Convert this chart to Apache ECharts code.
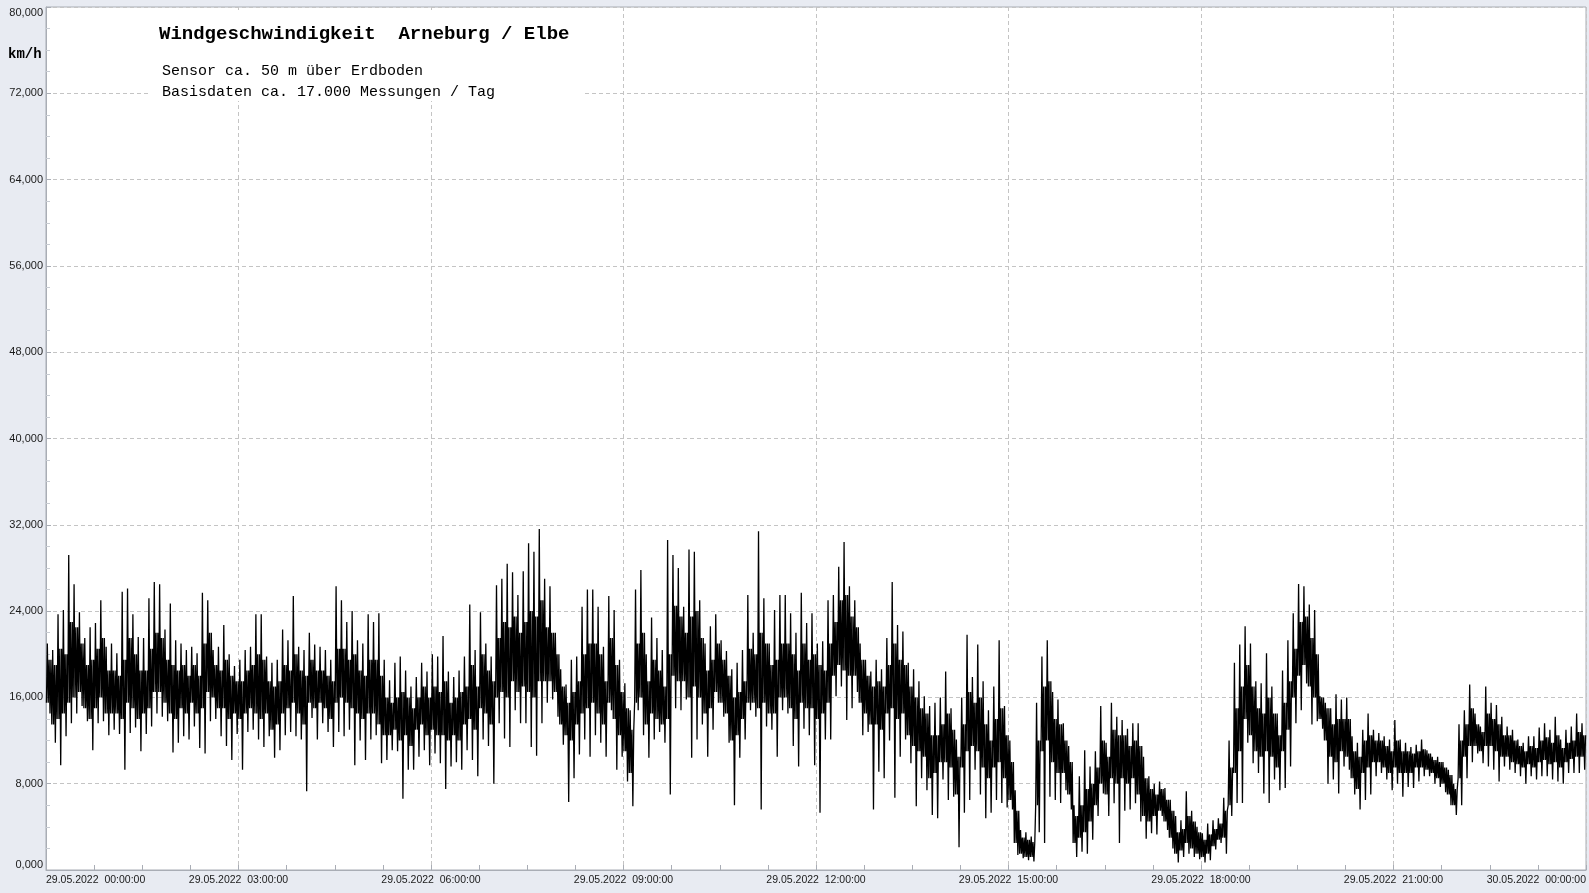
<!DOCTYPE html>
<html>
<head>
<meta charset="utf-8">
<script src="https://cdn.jsdelivr.net/npm/echarts@6/dist/echarts.min.js"></script>
<style>
html,body{margin:0;padding:0;background:#e8ebf2;}
#c{width:1589px;height:893px;}
</style>
</head>
<body>
<div id="c"></div>
<script>
// Wind speed 29.05.2022 00:00 - 30.05.2022 00:00, km/h, 5-minute bins (288)
const titleText = 'Windgeschwindigkeit  Arneburg / Elbe';
const subLine1 = 'Sensor ca. 50 m über Erdboden';
const subLine2 = 'Basisdaten ca. 17.000 Messungen / Tag';
const unitText = 'km/h';
const dayLabel = '29.05.2022';
const nextDayLabel = '30.05.2022';

// peak per bin
const hiValues = [
21.0, 20.4, 23.7, 24.1, 29.2, 26.5, 23.9, 21.5, 22.5, 22.9, 25.0, 20.7,
21.0, 20.1, 25.8, 26.1, 23.7, 21.6, 21.5, 25.2, 26.7, 26.5, 22.3, 24.7,
21.3, 21.0, 20.4, 20.7, 20.1, 25.7, 25.0, 20.4, 20.7, 22.7, 20.0, 18.9,
19.5, 20.4, 20.7, 23.7, 23.7, 19.8, 19.2, 19.5, 22.3, 21.3, 25.4, 20.7,
20.4, 22.0, 20.9, 20.7, 20.4, 19.5, 26.3, 25.0, 23.0, 24.0, 21.3, 21.0,
23.7, 23.0, 23.8, 19.5, 17.6, 19.2, 19.8, 18.5, 17.0, 17.9, 19.2, 18.4,
20.0, 19.8, 21.7, 18.4, 17.9, 18.5, 19.8, 24.6, 20.4, 23.9, 21.0, 19.8,
26.4, 27.0, 28.4, 27.6, 25.5, 27.7, 30.3, 29.5, 31.6, 27.0, 26.3, 22.0,
18.6, 17.2, 19.5, 19.8, 24.4, 26.0, 26.0, 24.4, 20.7, 25.4, 24.1, 19.5,
17.3, 14.8, 26.0, 27.8, 20.0, 23.4, 21.5, 20.4, 30.6, 29.2, 28.0, 24.4,
29.7, 29.5, 25.0, 21.0, 22.6, 23.7, 21.3, 20.3, 18.6, 19.2, 20.4, 25.5,
22.0, 31.4, 25.2, 21.0, 24.1, 25.5, 25.5, 23.8, 22.0, 25.7, 22.9, 23.8,
21.0, 21.2, 25.0, 25.5, 28.1, 30.4, 26.3, 25.0, 21.0, 19.5, 18.4, 19.5,
18.6, 21.5, 26.7, 22.7, 22.1, 19.2, 18.6, 17.5, 16.1, 15.2, 15.5, 16.0,
18.4, 15.0, 12.1, 16.0, 21.8, 17.9, 20.9, 17.5, 14.8, 17.0, 21.3, 15.2,
12.0, 7.4, 3.7, 3.5, 3.1, 15.5, 19.8, 21.3, 16.5, 15.8, 13.6, 11.5,
6.0, 8.7, 11.1, 9.6, 11.0, 15.2, 11.8, 15.5, 14.2, 13.9, 13.1, 13.6,
13.6, 10.5, 8.7, 8.0, 8.2, 7.6, 6.5, 5.0, 4.6, 7.3, 5.5, 4.0,
3.4, 4.3, 4.6, 4.8, 6.7, 12.0, 19.2, 20.9, 22.6, 21.0, 17.5, 17.3,
20.1, 17.0, 14.5, 18.5, 21.3, 23.8, 26.5, 26.3, 24.6, 24.1, 16.1, 15.5,
15.0, 16.3, 15.8, 16.0, 12.4, 11.8, 13.0, 14.5, 13.0, 12.7, 12.4, 12.1,
13.9, 12.1, 11.8, 11.4, 11.6, 12.1, 11.1, 10.5, 10.5, 10.0, 9.3, 8.0,
13.5, 14.8, 17.2, 14.5, 13.3, 17.0, 15.5, 15.3, 14.2, 13.3, 13.0, 12.1,
11.8, 12.4, 12.4, 13.2, 13.6, 13.0, 14.2, 12.1, 13.0, 13.3, 14.5, 13.6
];

// dip per bin
const loValues = [
14.5, 11.8, 9.7, 12.4, 13.6, 14.5, 15.2, 13.8, 11.1, 13.6, 13.8, 12.5,
13.0, 12.6, 9.3, 12.7, 13.2, 11.0, 12.6, 13.3, 14.5, 14.2, 13.8, 10.9,
11.8, 12.4, 12.1, 13.3, 11.3, 10.8, 13.8, 14.0, 12.4, 11.5, 10.2, 12.6,
9.3, 12.8, 13.0, 12.1, 11.4, 12.4, 10.4, 11.1, 12.5, 12.8, 12.4, 12.1,
7.3, 14.1, 12.1, 13.6, 12.8, 11.4, 12.8, 12.4, 13.0, 9.7, 12.0, 10.2,
12.1, 12.5, 9.9, 10.2, 11.1, 11.0, 6.6, 9.3, 9.3, 10.5, 11.1, 9.7,
10.8, 9.9, 7.5, 9.6, 10.0, 9.3, 11.1, 10.2, 8.7, 12.1, 11.5, 8.0,
13.6, 12.2, 11.4, 14.8, 13.6, 13.6, 11.4, 10.6, 13.6, 15.5, 15.8, 14.2,
11.6, 6.3, 8.5, 10.7, 12.1, 10.5, 12.5, 11.8, 10.5, 14.8, 9.3, 10.5,
8.2, 5.9, 14.8, 12.5, 10.4, 12.1, 12.8, 11.8, 7.0, 15.0, 14.8, 15.8,
10.4, 12.1, 13.5, 10.5, 13.0, 15.5, 14.2, 11.8, 6.0, 10.4, 12.1, 14.8,
14.2, 5.6, 13.3, 13.0, 10.5, 14.8, 14.5, 11.5, 9.6, 13.1, 12.5, 9.7,
5.3, 12.1, 12.1, 16.1, 17.0, 13.9, 15.0, 16.5, 12.5, 12.8, 5.6, 9.1,
8.5, 12.0, 6.7, 10.5, 12.1, 9.9, 5.9, 8.5, 7.4, 5.1, 4.8, 8.4,
6.5, 6.8, 2.1, 5.3, 6.5, 9.3, 7.0, 4.8, 5.3, 6.5, 6.2, 5.8,
5.6, 1.4, 1.1, 0.9, 0.8, 3.5, 2.5, 6.8, 6.5, 6.2, 7.4, 5.6,
1.2, 1.7, 1.5, 2.8, 5.0, 7.1, 5.0, 6.2, 2.5, 5.5, 5.6, 6.2,
4.5, 2.9, 3.4, 3.3, 5.0, 3.7, 2.0, 0.7, 1.2, 1.5, 1.2, 1.0,
0.7, 0.9, 1.9, 2.5, 1.5, 5.0, 6.2, 6.2, 11.8, 9.9, 9.0, 7.1,
6.2, 8.4, 7.4, 7.6, 9.6, 13.6, 14.8, 17.3, 13.5, 13.8, 13.1, 8.0,
8.4, 7.1, 9.6, 9.3, 7.0, 5.6, 6.5, 7.0, 8.7, 9.0, 8.4, 7.4,
8.0, 6.8, 7.7, 7.6, 8.2, 8.7, 8.7, 8.0, 7.7, 7.2, 6.0, 5.1,
6.0, 8.5, 10.0, 10.8, 9.9, 9.6, 9.3, 8.2, 9.6, 9.3, 9.0, 8.7,
8.0, 8.7, 8.4, 8.7, 8.7, 8.4, 8.2, 8.0, 9.0, 9.0, 9.0, 9.3
];

// lower edge of the dense band per bin
const coreLoValues = [
15.5, 13.5, 14, 14.5, 15.5, 16, 16.5, 15, 14, 15, 16, 14.5,
14.5, 14.5, 14, 15.5, 15, 14, 14.5, 15, 16.5, 16.5, 15.5, 14.5,
14, 15, 14.5, 15.5, 14.5, 15, 16.5, 16, 15, 15, 14, 14.5,
14, 14.5, 15, 14.5, 14, 14.5, 13, 13.5, 14.5, 15, 15.5, 14.5,
13.5, 15.5, 15, 15.5, 15, 14, 15.5, 16, 15.5, 15, 14.5, 14,
14.5, 14.5, 13.5, 12.5, 12.5, 13, 12, 12.5, 11.5, 13, 13.5, 12.5,
13, 12.5, 12.5, 12, 12.5, 12, 13.5, 14, 13, 15, 14.5, 13.5,
16, 16.5, 16, 17.5, 16.5, 17, 16.5, 16, 17.5, 17.5, 17.5, 16.5,
13.5, 12.5, 12, 13.5, 14.5, 15, 15.5, 14.5, 13.5, 15.5, 14, 12.5,
11, 9, 15.5, 16, 13.5, 14.5, 14, 13.5, 14, 18, 17.5, 17.5,
16, 17, 16, 14.5, 15, 16.5, 15.5, 14.5, 12, 12.5, 14, 15.5,
15.5, 15, 15.5, 14.5, 14.5, 16, 16, 15, 14, 15.5, 15, 15,
14, 14.5, 15.5, 18, 19, 18.5, 18, 18, 15.5, 14.5, 13.5, 13.5,
13, 14.5, 15, 14, 14.5, 12.5, 11.5, 11, 10.5, 8.5, 9, 10,
10, 9.5, 7, 9.5, 11, 11.5, 11, 9.5, 8.5, 9.5, 10, 8.5,
6.5, 2.5, 1.5, 1.2, 1.2, 6, 11, 12, 10, 9, 9, 7,
2.5, 3, 3.5, 4.5, 6, 8, 7, 8.5, 8, 8.5, 8, 8.5,
7, 5, 4.5, 5, 5.5, 4.5, 3, 1.5, 1.8, 2.5, 2, 1.5,
1.2, 1.5, 2.2, 2.8, 3, 6, 9, 11, 14, 12.5, 11, 10.5,
11, 10.5, 9.5, 11, 13, 16, 18, 19, 17, 16, 14, 12,
10.5, 10, 11, 10.5, 8.5, 7.5, 9, 9.5, 10, 10, 9.5, 9,
9.5, 9, 9, 9, 9.5, 9.5, 9.3, 9, 8.5, 8, 7, 6,
8.5, 10.5, 11.5, 11.5, 11, 11.5, 11.5, 11, 10.5, 10.5, 10, 9.8,
9.5, 9.8, 9.5, 10, 10.2, 9.8, 10, 9.5, 10, 10.3, 10.5, 10.5
];

// upper edge of the dense band per bin
const coreHiValues = [
19.5, 19, 20.5, 20, 23, 22.5, 21, 19, 19.5, 20.5, 21.5, 18.5,
18.5, 18, 19.5, 21.5, 20, 18.5, 18.5, 20.5, 22, 21.5, 19.5, 19,
18.5, 19, 18, 19, 18, 21, 22, 19, 18.5, 19.5, 18, 17.5,
17.5, 18.5, 19, 20, 19.5, 17.5, 17, 17.5, 19, 18.5, 20, 18.5,
18, 19.5, 18.5, 18.5, 18, 17.5, 20.5, 20.5, 19.5, 20, 18.5, 18,
19.5, 19.5, 18, 16, 15.5, 16, 16.5, 16, 15, 16, 17, 16,
17, 16.5, 17.5, 15.5, 16, 16.5, 17, 19, 17, 20, 18.5, 17.5,
21.5, 23, 22.5, 23.5, 22, 23, 24, 23.5, 25, 22.5, 22, 20,
17, 15.5, 16.5, 17.5, 20, 21, 21, 20, 17.5, 21.5, 19, 16.5,
15, 13, 21, 22, 17.5, 19.5, 18.5, 17, 20, 24.5, 23.5, 22,
23.5, 24, 21.5, 18.5, 19.5, 21, 19.5, 18, 16, 16.5, 17.5, 20.5,
20, 22, 21, 19, 19.5, 21, 21, 20, 18.5, 21, 19.5, 20,
19, 18.5, 21, 23, 25, 25.5, 23.5, 22.5, 19.5, 18, 17, 17.5,
17, 19, 21, 19.5, 19, 17, 16, 15, 14.5, 12.5, 12.5, 13.5,
14.5, 13, 10.5, 13.5, 16.5, 15.5, 16, 13.5, 12, 14, 15, 12.5,
10, 5.5, 3, 2.8, 2.6, 12, 17, 17.5, 14, 13.5, 12, 10,
5, 6, 7.5, 8, 9.5, 12, 10.5, 13, 12.5, 12.5, 11.5, 12,
11.5, 8.5, 7.5, 7, 7.5, 6.5, 5.5, 3.5, 3.8, 5, 4.5, 3.5,
2.8, 3.3, 3.8, 4.3, 5.5, 9.5, 15, 17, 19, 17, 15, 14.5,
16, 14.5, 12.5, 15.5, 17.5, 20.5, 23, 23.5, 21.5, 20, 16, 15,
13.5, 14, 14, 14, 11, 10.5, 12, 12.5, 12, 12, 11.5, 11,
12, 11, 11, 10.8, 11, 11.2, 10.8, 10.2, 10, 9.5, 8.8, 7.5,
12, 13.5, 15, 13.5, 12.8, 14.5, 14, 13.5, 12.5, 12.5, 12, 11.5,
11, 11.5, 11.3, 12, 12.3, 11.8, 12.5, 11.3, 11.8, 12, 12.8, 12.5
];

const binMinutes = 5;
const lineData = [];
for (let i = 0; i < hiValues.length; i++) {
  const hi = hiValues[i], lo = loValues[i];
  const cLo = Math.min(Math.max(coreLoValues[i], lo), hi);
  const cHi = Math.max(Math.min(coreHiValues[i], hi), cLo);
  const seq = [cLo, hi, cLo, cHi, lo, cHi];
  const t0 = i * binMinutes;
  for (let k = 0; k < seq.length; k++) {
    lineData.push([t0 + binMinutes * (k + 0.5) / seq.length, seq[k]]);
  }
}

function pad(n){ return (n < 10 ? '0' : '') + n; }

const chart = echarts.init(document.getElementById('c'), null, {renderer: 'canvas'});
const axisGray = '#a9adb5';
const gridDash = '#c4c4c4';

chart.setOption({
  animation: false,
  backgroundColor: '#e8ebf2',
  grid: {
    left: 46, right: 3, top: 7, bottom: 23,
    show: true, backgroundColor: '#ffffff', borderColor: axisGray, borderWidth: 1
  },
  xAxis: {
    type: 'value', min: 0, max: 1440, interval: 180,
    axisLine: { show: true, lineStyle: { color: axisGray, width: 1 } },
    axisTick: { show: true, inside: true, length: 5, lineStyle: { color: axisGray } },
    minorTick: { show: true, splitNumber: 4, length: 5, lineStyle: { color: axisGray } },
    splitLine: { show: true, lineStyle: { color: gridDash, type: [4, 3], width: 1 } },
    axisLabel: {
      margin: 5, fontFamily: 'Liberation Sans, Arial, sans-serif', fontSize: 10.5, color: '#1a1a1a',
      alignMinLabel: 'left', alignMaxLabel: 'right',
      formatter: function (v) {
        if (v >= 1440) return nextDayLabel + '  00:00:00';
        return dayLabel + '  ' + pad(Math.round(v / 60)) + ':00:00';
      }
    }
  },
  yAxis: {
    type: 'value', min: 0, max: 80, interval: 8,
    axisLine: { show: true, lineStyle: { color: axisGray, width: 1 } },
    axisTick: { show: true, inside: true, length: 5, lineStyle: { color: axisGray } },
    minorTick: { show: true, splitNumber: 4, length: 4, lineStyle: { color: '#c8ccd3' } },
    splitLine: { show: true, lineStyle: { color: gridDash, type: [4, 3], width: 1 } },
    axisLabel: {
      margin: 3, fontFamily: 'Liberation Sans, Arial, sans-serif', fontSize: 11, color: '#1a1a1a',
      verticalAlignMinLabel: 'bottom', verticalAlignMaxLabel: 'top',
      formatter: function (v) { return v.toFixed(3).replace('.', ','); }
    }
  },
  graphic: [
    { type: 'rect', z: 50, shape: { x: 150, y: 10, width: 432, height: 91 }, style: { fill: '#ffffff' } },
    { type: 'text', z: 60, x: 159, y: 34, style: { text: titleText, fill: '#000', font: 'bold 19px "Liberation Mono", monospace', verticalAlign: 'middle' } },
    { type: 'text', z: 60, x: 162, y: 71, style: { text: subLine1, fill: '#000', font: '15px "Liberation Mono", monospace', verticalAlign: 'middle' } },
    { type: 'text', z: 60, x: 162, y: 92, style: { text: subLine2, fill: '#000', font: '15px "Liberation Mono", monospace', verticalAlign: 'middle' } },
    { type: 'text', z: 60, x: 8, y: 54, style: { text: unitText, fill: '#000', font: 'bold 14px "Liberation Mono", monospace', verticalAlign: 'middle' } }
  ],
  series: [{
    type: 'line',
    data: lineData,
    showSymbol: false,
    symbol: 'none',
    sampling: null,
    lineStyle: { color: '#000000', width: 1.3 },
    z: 5
  }]
});
</script>
</body>
</html>
